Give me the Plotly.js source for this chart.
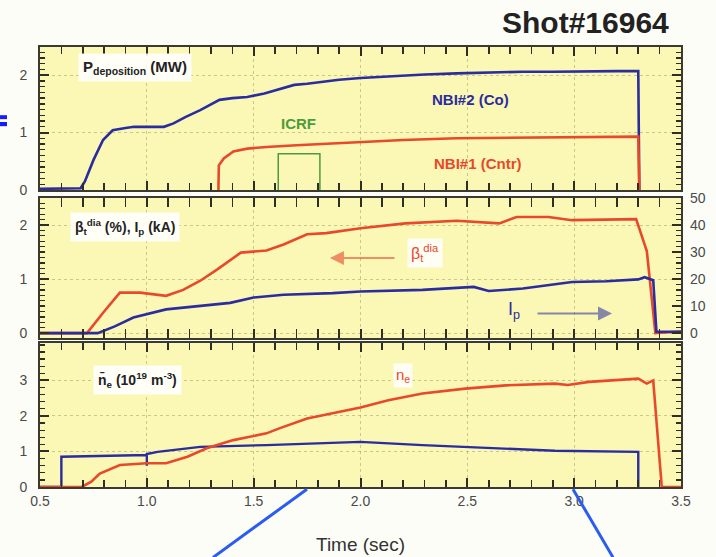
<!DOCTYPE html>
<html>
<head>
<meta charset="utf-8">
<script src="https://cdn.plot.ly/plotly-3.0.1.min.js"></script>
<style>html,body{margin:0;padding:0;background:#fdfdf8;}#plot{width:716px;height:557px;}</style>
</head>
<body>
<div id="plot"></div>
<script>
// Panel 1: deposited power (MW)
const tNbi2 = [0.5, 0.6, 0.69, 0.71, 0.75, 0.795, 0.84, 0.9, 0.94, 1.0, 1.08, 1.125, 1.18, 1.25, 1.34, 1.4, 1.47, 1.55, 1.61, 1.69, 1.75, 1.81, 1.9, 2.0, 2.13, 2.3, 2.45, 2.6, 2.76, 2.9, 3.07, 3.2, 3.30, 3.305];
const pNbi2 = [0.02, 0.02, 0.03, 0.15, 0.52, 0.87, 1.04, 1.08, 1.10, 1.10, 1.10, 1.16, 1.27, 1.39, 1.57, 1.60, 1.62, 1.68, 1.74, 1.83, 1.85, 1.88, 1.92, 1.95, 1.98, 2.01, 2.03, 2.05, 2.06, 2.06, 2.07, 2.07, 2.07, 0];
const tNbi1 = [1.335, 1.337, 1.36, 1.405, 1.47, 1.56, 1.7, 1.85, 2.0, 2.2, 2.45, 2.7, 2.92, 3.1, 3.30, 3.305];
const pNbi1 = [0, 0.43, 0.55, 0.67, 0.72, 0.75, 0.78, 0.81, 0.84, 0.87, 0.90, 0.91, 0.92, 0.93, 0.93, 0];
const tIcrf = [1.615, 1.615, 1.81, 1.81];
const pIcrf = [0, 0.63, 0.63, 0];

// Panel 2: beta_t dia (%) and Ip (kA)
const tBeta = [0.5, 0.72, 0.8, 0.874, 0.968, 1.09, 1.17, 1.25, 1.33, 1.405, 1.44, 1.56, 1.64, 1.75, 1.84, 2.0, 2.21, 2.45, 2.55, 2.65, 2.73, 2.88, 2.99, 3.15, 3.29, 3.34, 3.38, 3.5];
const beta = [0, 0, 0.4, 0.75, 0.75, 0.69, 0.80, 0.97, 1.18, 1.39, 1.49, 1.53, 1.64, 1.83, 1.85, 1.94, 2.03, 2.08, 2.05, 2.03, 2.15, 2.15, 2.09, 2.10, 2.11, 1.52, 0.0, 0.03];
const tIp = [0.5, 0.77, 0.85, 0.937, 1.09, 1.25, 1.39, 1.5, 1.64, 1.87, 2.0, 2.29, 2.45, 2.53, 2.6, 2.76, 2.99, 3.15, 3.30, 3.33, 3.37, 3.385, 3.5];
const ip = [0, 0, 2.5, 5.8, 8.8, 10.0, 11.2, 13.2, 14.2, 14.8, 15.4, 16.0, 16.8, 17.1, 15.6, 16.5, 18.9, 19.2, 19.9, 20.7, 19.6, 0.5, 0.5];

// Panel 3: line-averaged density (1e19 m^-3) and gas puff
const tNe = [0.5, 0.695, 0.74, 0.78, 0.874, 1.0, 1.09, 1.19, 1.28, 1.405, 1.56, 1.62, 1.75, 1.87, 2.0, 2.13, 2.29, 2.49, 2.68, 2.91, 2.97, 3.07, 3.27, 3.30, 3.34, 3.37, 3.41, 3.5];
const ne = [0, 0, 0.15, 0.38, 0.62, 0.67, 0.67, 0.85, 1.09, 1.32, 1.51, 1.65, 1.93, 2.07, 2.24, 2.44, 2.63, 2.77, 2.86, 2.91, 2.87, 2.96, 3.05, 3.05, 2.91, 3.0, 0, 0];
const tGas = [0.5, 0.6, 0.6, 0.8, 1.0, 1.0, 1.0, 1.05, 1.25, 1.56, 2.0, 2.29, 2.6, 2.91, 3.30, 3.30];
const gas = [0, 0, 0.85, 0.87, 0.9, 0.6, 0.93, 0.99, 1.13, 1.18, 1.27, 1.18, 1.09, 1.02, 0.99, 0];

const xTickVals = [0.5, 1.0, 1.5, 2.0, 2.5, 3.0, 3.5];
const xTickText = ['0.5', '1.0', '1.5', '2.0', '2.5', '3.0', '3.5'];
const y1Ticks = [0, 1, 2];
const y2Ticks = [0, 1, 2];
const y4Ticks = [0, 10, 20, 30, 40, 50];
const y3Ticks = [0, 1, 2, 3];

const BLUE = '#2b2d9e', RED = '#e8482c', GREEN = '#4f9a3c';
const FONT = 'Liberation Sans, Arial, sans-serif';
const TICKC = '#2e2e26';

const traces = [
  {x: tNbi2, y: pNbi2, xaxis: 'x', yaxis: 'y', mode: 'lines', line: {color: BLUE, width: 2.6}},
  {x: tNbi1, y: pNbi1, xaxis: 'x', yaxis: 'y', mode: 'lines', line: {color: RED, width: 2.6}},
  {x: tIcrf, y: pIcrf, xaxis: 'x', yaxis: 'y', mode: 'lines', line: {color: GREEN, width: 1.5}},
  {x: tBeta, y: beta, xaxis: 'x2', yaxis: 'y2', mode: 'lines', line: {color: RED, width: 2.6}},
  {x: tIp, y: ip, xaxis: 'x2', yaxis: 'y4', mode: 'lines', line: {color: BLUE, width: 2.6}},
  {x: tGas, y: gas, xaxis: 'x3', yaxis: 'y3', mode: 'lines', line: {color: BLUE, width: 2.4}},
  {x: tNe, y: ne, xaxis: 'x3', yaxis: 'y3', mode: 'lines', line: {color: RED, width: 2.6}}
];

const axLine = {showline: true, linecolor: '#3a3a30', linewidth: 2};
const grid = {showgrid: true, gridcolor: 'rgba(140,140,90,0.45)', griddash: 'dot', gridwidth: 1, zeroline: false};
const tickFont = {family: FONT, size: 14, color: '#4a4a4a'};

function xAx(anchor, labels) {
  return Object.assign({}, axLine, grid, {
    anchor: anchor, range: [0.5, 3.5], tickmode: 'array', tickvals: xTickVals, ticktext: xTickText,
    showticklabels: labels, ticks: 'inside', ticklen: 9, tickwidth: 2, tickcolor: TICKC,
    mirror: 'allticks', tickfont: tickFont,
    minor: {tickmode: 'linear', tick0: 0.5, dtick: 0.1, ticks: 'inside', ticklen: 7, tickwidth: 1.6, tickcolor: TICKC, showgrid: false}
  });
}
function yAx(domain, range, vals, minorDtick, mirror) {
  return Object.assign({}, axLine, grid, {
    domain: domain, range: range, tickmode: 'array', tickvals: vals, ticks: 'inside', ticklen: 9, tickwidth: 2,
    tickcolor: TICKC, mirror: mirror, tickfont: tickFont, ticklabelstandoff: 8,
    minor: {tickmode: 'linear', tick0: 0, dtick: minorDtick, ticks: 'inside', ticklen: 5, tickwidth: 1.3, tickcolor: TICKC, showgrid: false}
  });
}

const annFont = (c, s) => ({family: FONT, size: s || 15, color: c});

const layout = {
  width: 716, height: 557,
  margin: {l: 40, r: 35, t: 47, b: 70},
  paper_bgcolor: '#fdfdf8', plot_bgcolor: '#faf8b4',
  showlegend: false,
  xaxis: xAx('y', false),
  xaxis2: xAx('y2', false),
  xaxis3: Object.assign(xAx('y3', true), {
    title: {text: 'Time (sec)', font: {family: FONT, size: 19, color: '#333'}, standoff: 30}
  }),
  yaxis: Object.assign(yAx([0.675, 1], [0, 2.49], y1Ticks, 0.1, 'allticks'), {anchor: 'x'}),
  yaxis2: Object.assign(yAx([0.3386, 0.6568], [-0.09, 2.5], y2Ticks, 0.1, true), {anchor: 'x2'}),
  yaxis4: Object.assign(yAx([0.3386, 0.6568], [-1.8, 50], y4Ticks, 2, false), {
    overlaying: 'y2', side: 'right', anchor: 'x2', showgrid: false, showline: false
  }),
  yaxis3: Object.assign(yAx([0, 0.327], [0, 4.05], y3Ticks, 0.2, 'allticks'), {anchor: 'x3'}),
  annotations: [
    {text: '<b>Shot#16964</b>', xref: 'paper', yref: 'paper', x: 0.985, y: 1.055, xanchor: 'right', yanchor: 'middle',
     showarrow: false, font: {family: FONT, size: 30, color: '#222'}},
    {text: '<b>P<sub>deposition</sub> (MW)</b>', xref: 'x', yref: 'y', x: 0.68, y: 2.13, xanchor: 'left', yanchor: 'middle',
     showarrow: false, bgcolor: 'rgba(255,255,255,0.9)', borderpad: 4, font: annFont('#222', 15)},
    {text: '<b>NBI#2 (Co)</b>', xref: 'x', yref: 'y', x: 2.515, y: 1.57, xanchor: 'center', yanchor: 'middle',
     showarrow: false, font: annFont(BLUE, 15)},
    {text: '<b>NBI#1 (Cntr)</b>', xref: 'x', yref: 'y', x: 2.55, y: 0.47, xanchor: 'center', yanchor: 'middle',
     showarrow: false, font: annFont(RED, 15)},
    {text: '<b>ICRF</b>', xref: 'x', yref: 'y', x: 1.71, y: 1.15, xanchor: 'center', yanchor: 'middle',
     showarrow: false, font: annFont(GREEN, 15)},
    {text: '<b>β<sub>t</sub><sup>dia</sup> (%), I<sub>p</sub> (kA)</b>', xref: 'x2', yref: 'y2', x: 0.64, y: 1.97, xanchor: 'left', yanchor: 'middle',
     showarrow: false, bgcolor: 'rgba(255,255,255,0.9)', borderpad: 4, font: annFont('#222', 14)},
    {text: 'β<sub>t</sub><sup>dia</sup>', xref: 'x2', yref: 'y2', x: 2.30, y: 1.48, xanchor: 'center', yanchor: 'middle',
     showarrow: false, bgcolor: 'rgba(255,255,255,0.85)', borderpad: 3, font: annFont(RED, 16)},
    {text: '', xref: 'x2', yref: 'y2', x: 1.857, y: 1.39, ax: 66, ay: 0, showarrow: true,
     arrowhead: 2, arrowsize: 1.4, arrowwidth: 2, arrowcolor: 'rgba(232,72,44,0.6)'},
    {text: 'I<sub>p</sub>', xref: 'x2', yref: 'y2', x: 2.72, y: 0.42, xanchor: 'center', yanchor: 'middle',
     showarrow: false, font: annFont(BLUE, 18)},
    {text: '', xref: 'x2', yref: 'y2', x: 3.177, y: 0.365, ax: -76, ay: 0, showarrow: true,
     arrowhead: 2, arrowsize: 1.4, arrowwidth: 2, arrowcolor: 'rgba(43,45,158,0.55)'},
    {text: '<b>n\u0304<sub>e</sub> (10<sup>19</sup> m<sup>-3</sup>)</b>', xref: 'x3', yref: 'y3', x: 0.75, y: 3.0, xanchor: 'left', yanchor: 'middle',
     showarrow: false, bgcolor: 'rgba(255,255,255,0.9)', borderpad: 4, font: annFont('#222', 14)},
    {text: 'n<sub>e</sub>', xref: 'x3', yref: 'y3', x: 2.2, y: 3.15, xanchor: 'center', yanchor: 'middle',
     showarrow: false, bgcolor: 'rgba(255,255,255,0.85)', borderpad: 2, font: annFont(RED, 15)}
  ],
  shapes: [
    {type: 'line', xref: 'paper', yref: 'paper', x0: 0.27, y0: -0.16, x1: 0.4165, y1: -0.005, line: {color: '#2a5cf0', width: 3}},
    {type: 'line', xref: 'paper', yref: 'paper', x0: 0.8315, y0: -0.005, x1: 0.894, y1: -0.16, line: {color: '#2a5cf0', width: 3}},
    {type: 'rect', xref: 'paper', yref: 'paper', x0: -0.0624, x1: -0.0515, y0: 0.836, y1: 0.845, fillcolor: '#1a1aff', line: {width: 0}},
    {type: 'rect', xref: 'paper', yref: 'paper', x0: -0.0624, x1: -0.0515, y0: 0.82, y1: 0.8295, fillcolor: '#1a1aff', line: {width: 0}}
  ]
};

Plotly.newPlot('plot', traces, layout, {displayModeBar: false, staticPlot: true});
</script>
</body>
</html>
